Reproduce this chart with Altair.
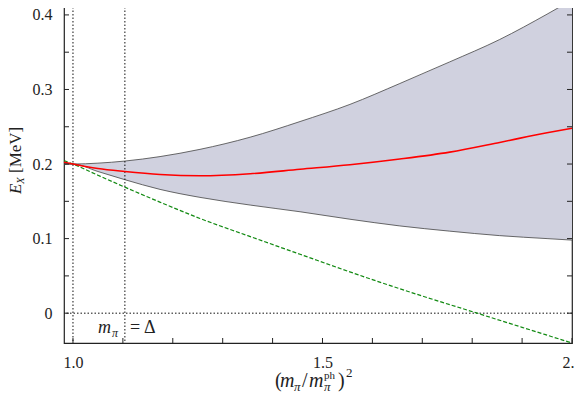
import altair as alt
import pandas as pd

# ---- data ----
x_grid = [0.982, 1.0, 1.05, 1.104, 1.1745, 1.2545, 1.355, 1.455, 1.555, 1.655, 1.755, 1.855, 1.95, 2.0]
band_upper = [0.2005, 0.200, 0.2012, 0.204, 0.210, 0.2197, 0.236, 0.257, 0.280, 0.308, 0.337, 0.367, 0.401, 0.420]
band_lower = [0.1995, 0.200, 0.190, 0.179, 0.166, 0.1553, 0.145, 0.136, 0.126, 0.117, 0.110, 0.104, 0.100, 0.098]
central = [0.2025, 0.200, 0.194, 0.190, 0.186, 0.1843, 0.187, 0.193, 0.199, 0.2067, 0.216, 0.229, 0.242, 0.248]

lin_x = [0.982, 1.0, 1.05, 1.104, 1.174, 1.2545, 1.35, 1.455, 1.603, 1.7, 1.81, 1.9, 2.0]
lin_y = [0.2045, 0.2, 0.185, 0.169, 0.149, 0.127, 0.104, 0.079, 0.0443, 0.023, 0.0, -0.019, -0.04]

x_labels = [1.0, 1.5, 2.0]
y_labels = [0.0, 0.1, 0.2, 0.3, 0.4]
x_minor = [1.0, 1.1, 1.2, 1.3, 1.4, 1.5, 1.6, 1.7, 1.8, 1.9, 2.0]
y_minor = [0.0, 0.05, 0.1, 0.15, 0.2, 0.25, 0.3, 0.35, 0.4]
v_lines = [1.0, 1.104]
h_lines = [0.0]
annot_x = [1.104]
annot_y = [-0.0266]

W, H = 508, 343
FONT = "Liberation Serif"

xs = alt.Scale(domain=[0.982, 2.0], nice=False, zero=False)
ys = alt.Scale(domain=[-0.04, 0.42], nice=False, zero=False)
xaxis = alt.Axis(values=x_labels, format=".1f", title=None, grid=False, domain=False,
                 ticks=False, tickSize=0, labelPadding=11, labelFont=FONT, labelFontSize=16,
                 labelColor="#222", labelFlush=False, labelOverlap=False)
yaxis = alt.Axis(values=y_labels, format=".1~f", title=None, grid=False, domain=False,
                 ticks=False, tickSize=0, labelPadding=12, labelFont=FONT, labelFontSize=16,
                 labelColor="#222", labelOverlap=False)


def X(f):
    return alt.X(f, type="quantitative", scale=xs, axis=xaxis)


def Y(f):
    return alt.Y(f, type="quantitative", scale=ys, axis=yaxis)


df = pd.DataFrame({"x": x_grid, "up": band_upper, "lo": band_lower, "c": central})
dlin = pd.DataFrame({"x": lin_x, "y": lin_y})

band = alt.Chart(df).mark_area(color="#d0d1df", interpolate="monotone").encode(
    x=X("x"), y=Y("up"), y2="lo")
edge_up = alt.Chart(df).mark_line(color="#444", strokeWidth=0.8, interpolate="monotone").encode(
    x=X("x"), y=Y("up"))
edge_lo = alt.Chart(df).mark_line(color="#444", strokeWidth=0.8, interpolate="monotone").encode(
    x=X("x"), y=Y("lo"))
red = alt.Chart(df).mark_line(color="#ff0000", strokeWidth=1.6, interpolate="monotone").encode(
    x=X("x"), y=Y("c"))
green = alt.Chart(dlin).mark_line(color="#128a12", strokeWidth=1.2, strokeDash=[4, 2],
                                  interpolate="monotone").encode(x=X("x"), y=Y("y"))

vl = alt.Chart(pd.DataFrame({"v": v_lines})).mark_rule(
    color="#111", strokeWidth=1, strokeDash=[1.5, 2]).encode(x=X("v"))
hl = alt.Chart(pd.DataFrame({"v": h_lines})).mark_rule(
    color="#111", strokeWidth=1, strokeDash=[1.5, 2]).encode(y=Y("v"))

dxm = pd.DataFrame({"t": x_minor})
dym = pd.DataFrame({"t": y_minor})
tick_style = dict(color="#222", strokeWidth=1)
tb = alt.Chart(dxm).mark_rule(**tick_style).encode(x=X("t"), y=alt.value(H), y2=alt.value(H - 5))
tt = alt.Chart(dxm).mark_rule(**tick_style).encode(x=X("t"), y=alt.value(0), y2=alt.value(5))
tl = alt.Chart(dym).mark_rule(**tick_style).encode(y=Y("t"), x=alt.value(0), x2=alt.value(5))
tr = alt.Chart(dym).mark_rule(**tick_style).encode(y=Y("t"), x=alt.value(W), x2=alt.value(W - 5))

# annotation m_pi = Delta
dann = pd.DataFrame({"x": annot_x, "y": annot_y})


def ann(txt, dx, dy=0, size=18, style="normal"):
    return alt.Chart(dann).mark_text(text=txt, font=FONT, fontSize=size, fontStyle=style,
                                     align="left", baseline="alphabetic", dx=dx, dy=dy,
                                     color="#222").encode(x=X("x"), y=Y("y"))


annot = [ann("m", -27, style="italic"), ann("π", -13, 4, 12, "italic"),
         ann("=", 5), ann("Δ", 19)]

# axis titles composed of text pieces
one = pd.DataFrame({"k": [0]})


def piece(txt, px, py, dx=0, dy=0, size=20, style="normal", angle=0):
    return alt.Chart(one).mark_text(text=txt, font=FONT, fontSize=size, fontStyle=style,
                                    align="left", baseline="alphabetic", dx=dx, dy=dy,
                                    angle=angle, color="#222").encode(
        x=alt.value(px), y=alt.value(py))


XT_X, XT_Y = 211, 387
xtitle = [
    piece("(", XT_X, XT_Y, 0),
    piece("m", XT_X, XT_Y, 5, style="italic"),
    piece("π", XT_X, XT_Y, 19, 4, 13, "italic"),
    piece("/", XT_X, XT_Y, 27),
    piece("m", XT_X, XT_Y, 34, style="italic"),
    piece("ph", XT_X, XT_Y, 49, -8, 11),
    piece("π", XT_X, XT_Y, 49, 4, 13, "italic"),
    piece(")", XT_X, XT_Y, 63),
    piece("2", XT_X, XT_Y, 71, -10, 13),
]
YT_X, YT_Y = -43, 194
ytitle = [
    piece("E", YT_X, YT_Y, 0, 0, 17, "italic", 270),
    piece("X", YT_X, YT_Y, 10, 3, 11, "italic", 270),
    piece("[MeV]", YT_X, YT_Y, 21, 0, 17, "normal", 270),
]

chart = alt.layer(
    band, edge_up, edge_lo, vl, hl, green, red, tb, tt, tl, tr, *annot, *xtitle, *ytitle
).properties(
    width=W, height=H, autosize="none",
    padding={"left": 56, "top": -8, "right": 2, "bottom": 49},
).configure_view(stroke="#222", strokeWidth=1.2)

chart.save("out.html", embed_options={"renderer": "svg", "actions": False})
